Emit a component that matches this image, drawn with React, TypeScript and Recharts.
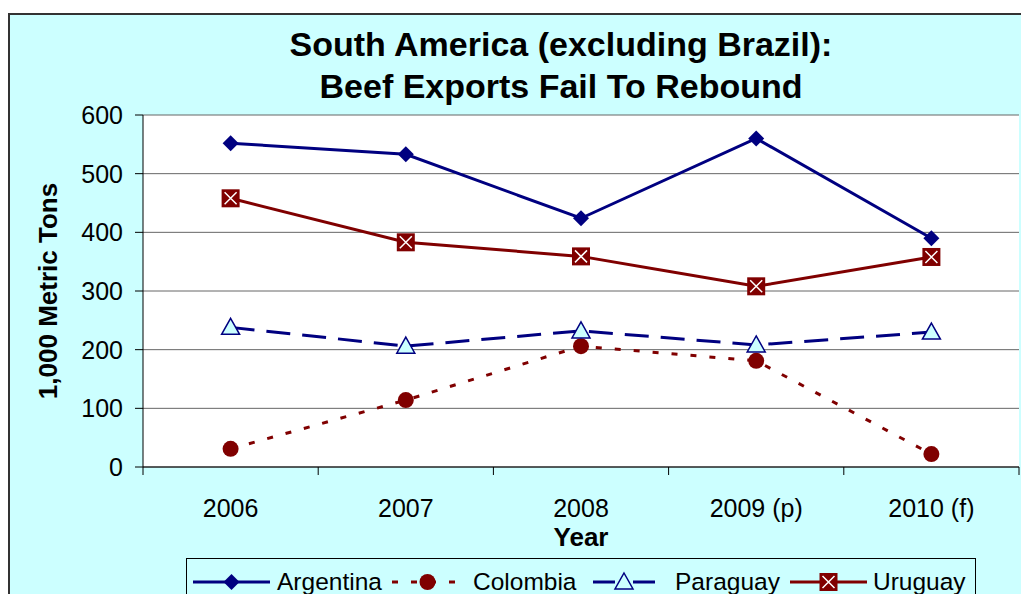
import { LineChart, Line, XAxis, YAxis, CartesianGrid } from "recharts";

const years = ["2006", "2007", "2008", "2009 (p)", "2010 (f)"];
const argentina = [552, 533, 424, 560, 390];
const colombia = [31, 114, 206, 181, 22];
const paraguay = [238, 206, 232, 208, 230];
const uruguay = [458, 383, 359, 308, 358];
const yTicks = [0, 100, 200, 300, 400, 500, 600];

const data = years.map((year, i) => ({
  year,
  Argentina: argentina[i],
  Colombia: colombia[i],
  Paraguay: paraguay[i],
  Uruguay: uruguay[i],
}));

const NAVY = "#000080";
const MAROON = "#800000";
const BG = "#CCFFFF";
const FONT = "Arial, 'Liberation Sans', sans-serif";

const CHART_W = 1011;
const CHART_H = 579;
const MARGIN = { top: 100, right: 2, left: 0, bottom: 0 };
const Y_W = 133;
const X_H = 127;
const PLOT_BOTTOM = CHART_H - X_H;
const BAND = (CHART_W - Y_W - MARGIN.right) / years.length;

const Diamond = ({ cx, cy }: any) => (
  <polygon
    points={`${cx},${cy - 8} ${cx + 8},${cy} ${cx},${cy + 8} ${cx - 8},${cy}`}
    fill={NAVY}
  />
);

const Dot = ({ cx, cy }: any) => <circle cx={cx} cy={cy} r={8} fill={MAROON} />;

const Triangle = ({ cx, cy }: any) => (
  <polygon
    points={`${cx},${cy - 9} ${cx + 9},${cy + 7} ${cx - 9},${cy + 7}`}
    fill={BG}
    stroke={NAVY}
    strokeWidth={1.5}
  />
);

const CrossBox = ({ cx, cy }: any) => (
  <g>
    <rect x={cx - 9} y={cy - 9} width={18} height={18} fill={MAROON} />
    <path
      d={`M${cx - 6},${cy - 6}L${cx + 6},${cy + 6}M${cx + 6},${cy - 6}L${cx - 6},${cy + 6}`}
      stroke="#fff"
      strokeWidth={1.5}
    />
  </g>
);

const XTick = ({ x, payload, index }: any) => (
  <g>
    <line x1={x - BAND / 2} x2={x - BAND / 2} y1={PLOT_BOTTOM} y2={PLOT_BOTTOM + 8} stroke="#000" />
    {index === years.length - 1 && (
      <line x1={x + BAND / 2} x2={x + BAND / 2} y1={PLOT_BOTTOM} y2={PLOT_BOTTOM + 8} stroke="#000" />
    )}
    <text
      x={x}
      y={PLOT_BOTTOM + 41}
      textAnchor="middle"
      dominantBaseline="central"
      fontSize={25}
      fontFamily={FONT}
      fill="#000"
    >
      {payload.value}
    </text>
  </g>
);

// legend icon / label positions inside the legend box
const legendItems = [
  { name: "Argentina", color: NAVY, dash: undefined, Marker: Diamond, x: 6, w: 77, tx: 90 },
  { name: "Colombia", color: MAROON, dash: "6 13", Marker: Dot, x: 205, w: 71, tx: 286 },
  { name: "Paraguay", color: NAVY, dash: "22 18", Marker: Triangle, x: 406, w: 62, tx: 488 },
  { name: "Uruguay", color: MAROON, dash: undefined, Marker: CrossBox, x: 603, w: 77, tx: 686 },
];

const LegendBox = () => (
  <div
    style={{
      position: "absolute",
      left: 176,
      top: 543,
      width: 790,
      height: 50,
      border: "1px solid #000",
      boxSizing: "border-box",
      fontFamily: FONT,
      fontSize: 24.5,
    }}
  >
    {legendItems.map((it) => (
      <div key={it.name}>
        <svg width={it.w} height={24} style={{ position: "absolute", left: it.x, top: 11 }}>
          <line x1={0} x2={it.w} y1={12} y2={12} stroke={it.color} strokeWidth={3} strokeDasharray={it.dash} />
          <it.Marker cx={it.w / 2} cy={12} />
        </svg>
        <span style={{ position: "absolute", left: it.tx, top: 8, lineHeight: "30px", whiteSpace: "nowrap" }}>
          {it.name}
        </span>
      </div>
    ))}
  </div>
);

export default function App() {
  return (
    <div
      style={{
        position: "fixed",
        left: 8,
        top: 13,
        width: CHART_W,
        height: CHART_H,
        background: BG,
        borderTop: "2px solid #333",
        borderLeft: "2px solid #333",
        overflow: "hidden",
        fontFamily: FONT,
      }}
    >
      <div
        style={{
          position: "absolute",
          left: 0,
          top: 8,
          width: 1102,
          textAlign: "center",
          fontWeight: "bold",
          fontSize: 34,
          lineHeight: "42px",
          color: "#000",
        }}
      >
        South America (excluding Brazil):
        <br />
        Beef Exports Fail To Rebound
      </div>
      <LineChart width={CHART_W} height={CHART_H} data={data} margin={MARGIN}>
        <CartesianGrid vertical={false} stroke="#666" fill="#fff" fillOpacity={1} />
        <XAxis
          dataKey="year"
          height={X_H}
          padding={{ left: BAND / 2, right: BAND / 2 }}
          tickLine={false}
          axisLine={{ stroke: "#000" }}
          tick={<XTick />}
          interval={0}
          label={{
            content: ({ viewBox }: any) => (
              <text
                x={viewBox.x + viewBox.width / 2}
                y={PLOT_BOTTOM + 70}
                textAnchor="middle"
                dominantBaseline="central"
                fontSize={26}
                fontWeight="bold"
                fontFamily={FONT}
                fill="#000"
              >
                Year
              </text>
            ),
          }}
        />
        <YAxis
          width={Y_W}
          domain={[0, 600]}
          ticks={yTicks}
          interval={0}
          tickSize={8}
          tickMargin={12}
          axisLine={{ stroke: "#000" }}
          tickLine={{ stroke: "#000" }}
          tick={{ fill: "#000", fontSize: 25, fontFamily: FONT }}
          label={{
            content: ({ viewBox }: any) => (
              <text
                x={38}
                y={viewBox.y + viewBox.height / 2}
                transform={`rotate(-90 38 ${viewBox.y + viewBox.height / 2})`}
                textAnchor="middle"
                dominantBaseline="central"
                fontSize={26}
                fontWeight="bold"
                fontFamily={FONT}
                fill="#000"
              >
                1,000 Metric Tons
              </text>
            ),
          }}
        />
        <YAxis
          yAxisId="right"
          orientation="right"
          width={0}
          domain={[0, 600]}
          tick={false}
          tickLine={false}
          axisLine={{ stroke: "#888" }}
        />
        <Line dataKey="Colombia" stroke={MAROON} strokeWidth={3} strokeDasharray="6 13" dot={<Dot />} isAnimationActive={false} />
        <Line dataKey="Paraguay" stroke={NAVY} strokeWidth={3} strokeDasharray="24 12" dot={<Triangle />} isAnimationActive={false} />
        <Line dataKey="Uruguay" stroke={MAROON} strokeWidth={3} dot={<CrossBox />} isAnimationActive={false} />
        <Line dataKey="Argentina" stroke={NAVY} strokeWidth={3} dot={<Diamond />} isAnimationActive={false} />
      </LineChart>
      <LegendBox />
    </div>
  );
}
